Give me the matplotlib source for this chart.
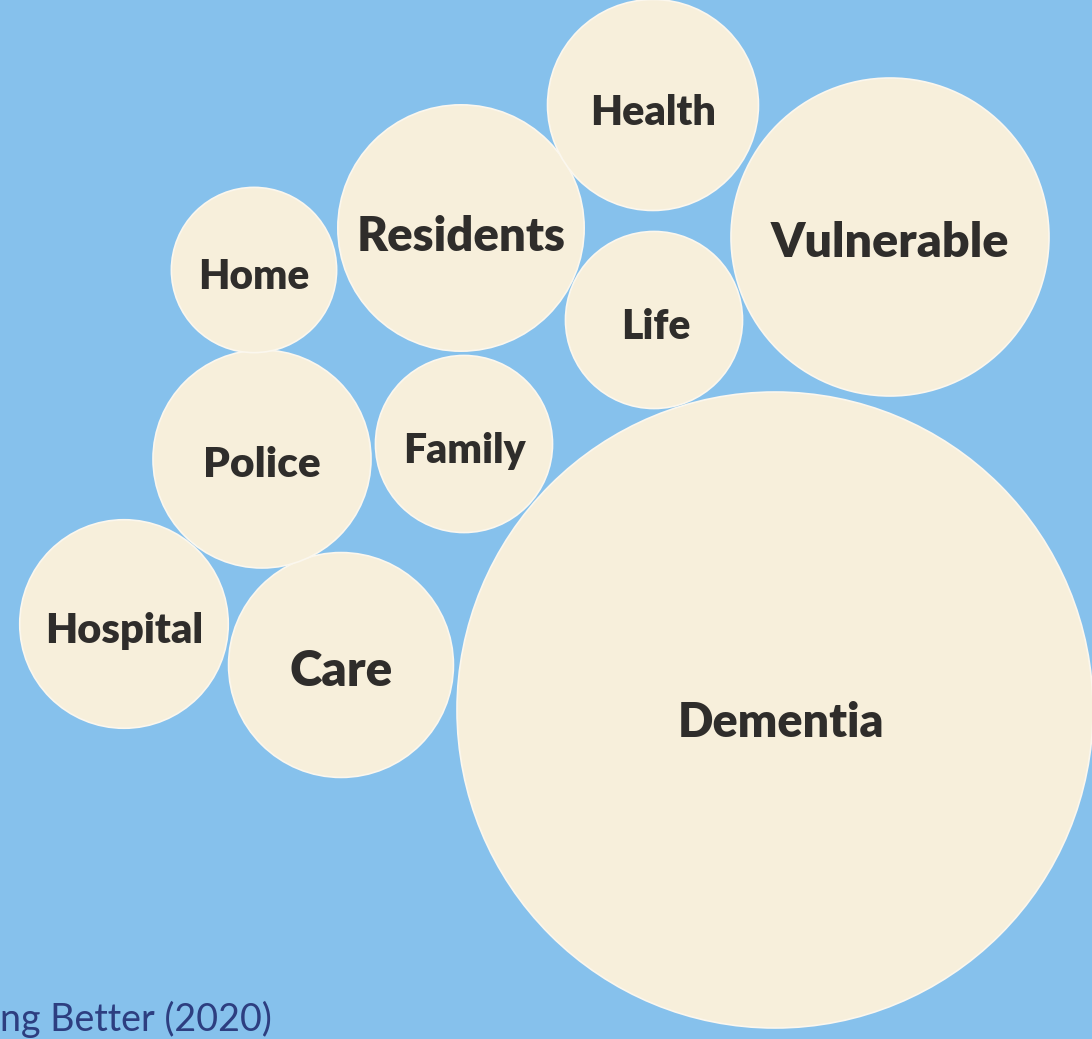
import matplotlib
matplotlib.use("Agg")
import matplotlib.pyplot as plt
from matplotlib.patches import Circle
import numpy as np

# word frequencies (bubble area ~ count)
words = ["Dementia", "Vulnerable", "Residents", "Care", "Police",
         "Health", "Hospital", "Family", "Life", "Home"]
counts = [400, 100, 60, 50, 47, 44, 43, 31, 31, 27]

# packed layout, in pixels from the top-left corner
centers_x = [775, 890, 461, 341, 262, 653, 124, 464, 654, 254]
centers_y = [710, 237, 228, 665, 459, 105, 624, 444, 320, 270]
label_dx = [6, 0, 0, 0, 0, 0, 0, 0, 2, 0]
label_dy = [13, 6, 9, 7, 6, 8, 7, 7, 7, 7]
label_width = [206, 238, 209, 103, 117, 126, 158, 122, 69, 111]

source_text = "ng Better (2020)"

BG = "#86c1ec"
BUBBLE = "#f7efdb"
INK = "#2f2d2b"

W, H = 1092, 1039
fig = plt.figure(figsize=(W / 100, H / 100), dpi=100, facecolor=BG)
ax = fig.add_axes([0, 0, 1, 1])
ax.set_xlim(0, W)
ax.set_ylim(H, 0)
ax.set_aspect("equal")
ax.axis("off")
ax.set_facecolor(BG)

scale = 15.9
radii = scale * np.sqrt(counts)

renderer = fig.canvas.get_renderer()
for i, word in enumerate(words):
    x, y, r = centers_x[i], centers_y[i], radii[i]
    ax.add_patch(Circle((x, y), r, facecolor=BUBBLE, edgecolor="#fbf7ee", lw=1.2))
    t = ax.text(x + label_dx[i], y + label_dy[i], word, ha="center", va="center",
                fontsize=30, fontweight="heavy", family="Lato", color=INK)
    # fit the label to the width it has in the original
    ext = t.get_window_extent(renderer)
    t.set_fontsize(30 * label_width[i] / ext.width)

src = ax.text(0, 1031, source_text, ha="left", va="baseline", fontsize=24,
              family="Lato", color="#2d3e80")
ext = src.get_window_extent(renderer)
src.set_fontsize(24 * 272 / ext.width)

fig.savefig("out.png", dpi=100, facecolor=BG)
